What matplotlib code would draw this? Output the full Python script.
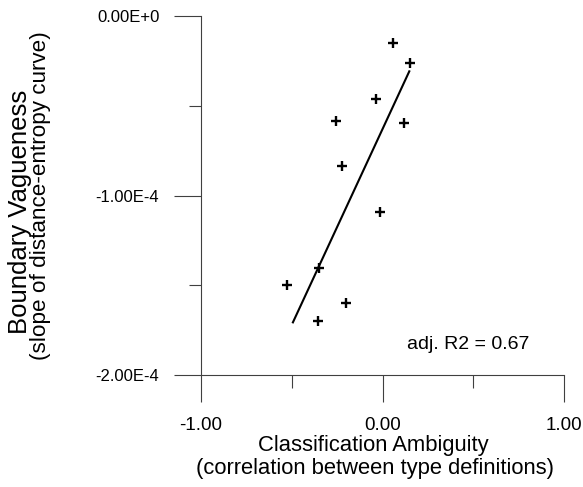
import numpy as np
import matplotlib; matplotlib.use("Agg")
import matplotlib.pyplot as plt

plt.rcParams["font.family"] = ["Liberation Sans", "DejaVu Sans"]

# points (y in units of 1e-4)
amb = [0.059, 0.150, -0.037, -0.255, 0.121, -0.221, -0.013, -0.349, -0.527, -0.200, -0.358]
vag = [-0.152, -0.264, -0.464, -0.585, -0.594, -0.834, -1.094, -1.402, -1.499, -1.597, -1.697]
# regression line end points as drawn in the original
fit_x = [-0.496, 0.150]
fit_y = [-1.712, -0.303]

xticks = [-1.0, 0.0, 1.0]
xtick_lbl = ["-1.00", "0.00", "1.00"]
yticks = [-2.0, -1.0, 0.0]
ytick_lbl = ["-2.00E-4", "-1.00E-4", "0.00E+0"]
r2_text = "adj. R2 = 0.67"

W, H = 583, 487
fig = plt.figure(figsize=(W / 100, H / 100), dpi=100)
ax = fig.add_axes([201 / W, 1 - 375 / H, (564 - 201) / W, (375 - 16) / H])

sc = 1e-4
ax.plot(np.array(fit_x), np.array(fit_y) * sc, color="black", lw=1.5, solid_capstyle="butt")
ax.plot(np.array(amb), np.array(vag) * sc, ls="none", marker="+", ms=7.5, mew=1.7, color="black")

ax.set_xlim(-1, 1)
ax.set_ylim(-2e-4, 0)
for s in ["top", "right"]:
    ax.spines[s].set_visible(False)
for s in ["left", "bottom"]:
    ax.spines[s].set_color("#404040")
    ax.spines[s].set_linewidth(0.8)

ax.set_xticks(xticks)
ax.set_xticklabels(xtick_lbl)
ax.set_xticks([-0.5, 0.5], minor=True)
ax.set_yticks(np.array(yticks) * sc)
ax.set_yticklabels(ytick_lbl)
ax.set_yticks(np.array([-1.5, -0.5]) * sc, minor=True)
ax.tick_params(axis="x", which="major", direction="out", length=19.5, width=0.8,
               color="#404040", pad=11, labelsize=13.5)
ax.tick_params(axis="y", which="major", direction="out", length=19.5, width=0.8,
               color="#404040", pad=10.5, labelsize=12)
ax.tick_params(axis="x", which="minor", direction="out", length=9.5, width=0.8, color="#404040")
ax.tick_params(axis="y", which="minor", direction="out", length=8.7, width=0.8, color="#404040")

ax.text(0.567, 0.072, r2_text, transform=ax.transAxes, ha="left", va="baseline", fontsize=14)

fig.text(373 / W, 1 - 451 / H, "Classification Ambiguity", ha="center", va="baseline", fontsize=15.8)
fig.text(375 / W, 1 - 474 / H, "(correlation between type definitions)", ha="center", va="baseline",
         fontsize=15.8)
fig.text(20 / W, 1 - 212 / H, "Boundary Vagueness", rotation=90, ha="center", va="center", fontsize=18.5)
fig.text(41 / W, 1 - 196 / H, "(slope of distance-entropy curve)", rotation=90, ha="center", va="center",
         fontsize=16.2)

fig.savefig("out.png", dpi=100, facecolor="white")
